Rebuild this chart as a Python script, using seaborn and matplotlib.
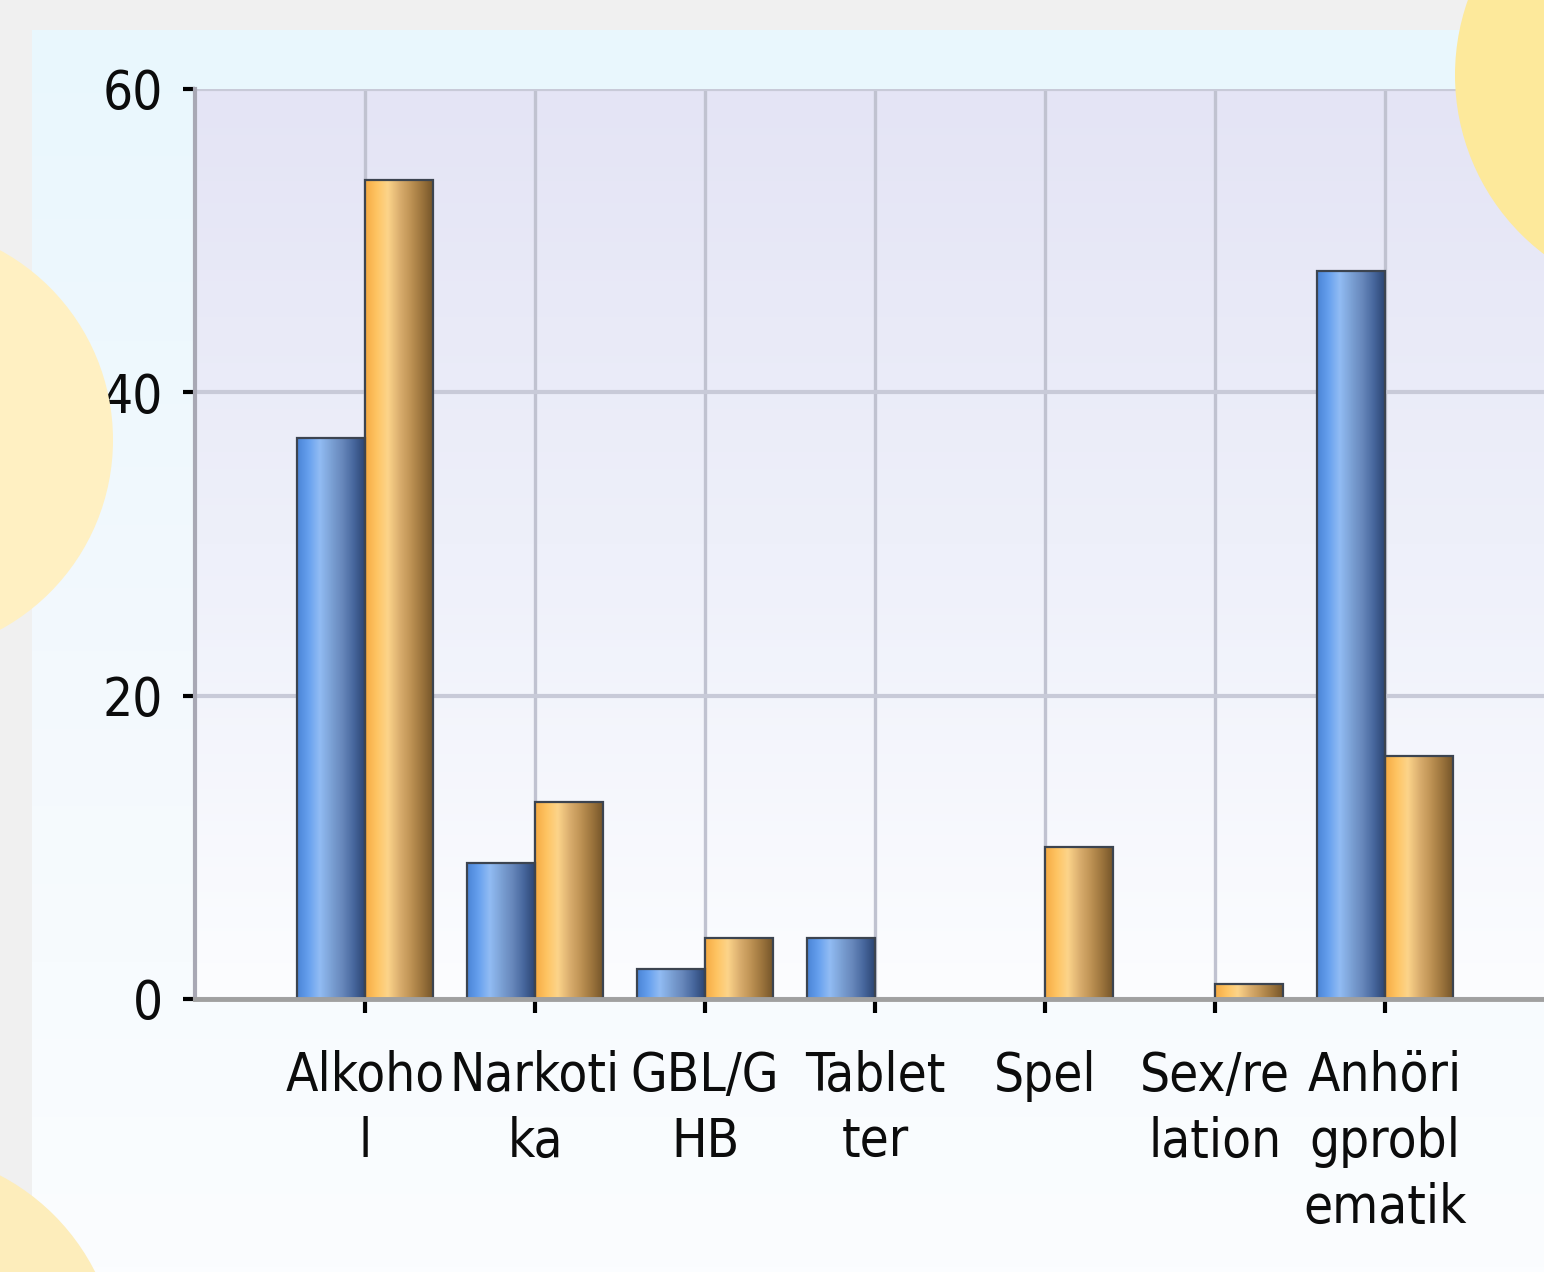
import numpy as np
import pandas as pd
import matplotlib
matplotlib.use("Agg")
import matplotlib.pyplot as plt
import seaborn as sns
from matplotlib.colors import LinearSegmentedColormap
from matplotlib.patches import Circle

# ---- data ----
categories = ["Alkoho\nl", "Narkoti\nka", "GBL/G\nHB", "Tablet\nter", "Spel", "Sex/re\nlation", "Anhöri\ngprobl\nematik"]
series_names = ["Serie 1", "Serie 2"]
serie1 = [37, 9, 2, 4, 0, 0, 48]
serie2 = [54, 13, 4, 0, 10, 1, 16]
yticks = [0, 20, 40, 60]

df = pd.DataFrame({
    "cat": categories * 2,
    "val": serie1 + serie2,
    "series": [series_names[0]] * len(categories) + [series_names[1]] * len(categories),
})

sns.set_theme(style="white")
plt.rcParams["font.family"] = ["DejaVu Sans"]
plt.rcParams["font.stretch"] = "condensed"

W, H = 1544, 1272
fig = plt.figure(figsize=(W / 100, H / 100), dpi=100)
fig.patch.set_facecolor("#f0f0f0")

# background panel with gradient
bg = fig.add_axes([0, 0, 1, 1], zorder=0)
bg.axis("off")
panel_cmap = LinearSegmentedColormap.from_list("panel", ["#fbfdff", "#f3f9fd", "#e9f7fd"])
grad = np.linspace(0, 1, 256).reshape(-1, 1)
bg.imshow(grad, cmap=panel_cmap, origin="lower", extent=(32, W, 0, H - 30), aspect="auto")
bg.set_xlim(0, W)
bg.set_ylim(0, H)

# main axes
x_left, x_right = 195, 1555
y_top, y_bot = 89, 999
ax = fig.add_axes([x_left / W, (H - y_bot) / H, (x_right - x_left) / W, (y_bot - y_top) / H], zorder=1)
ax.set_facecolor("none")
plot_cmap = LinearSegmentedColormap.from_list("plotbg", ["#fcfdff", "#eef0fa", "#e4e4f5"])
ax.imshow(grad, cmap=plot_cmap, origin="lower", extent=(0, 1, 0, 1), transform=ax.transAxes,
          aspect="auto", zorder=0)

sns.barplot(data=df, x="cat", y="val", hue="series", palette=["#5a8ad0", "#f0b050"],
            width=0.8, ax=ax, legend=False, edgecolor="#3c4450", linewidth=1.6, zorder=3)

blue_cmap = LinearSegmentedColormap.from_list(
    "b", ["#4a84d6", "#66a0ee", "#92bcf4", "#7ca2d6", "#6888bc", "#48689e", "#2c4674"])
orange_cmap = LinearSegmentedColormap.from_list(
    "o", ["#f4aa44", "#ffc462", "#fcd48a", "#dcb070", "#c09456", "#9e763e", "#76562a"])
row = np.linspace(0, 1, 128).reshape(1, -1)

bars = [p for p in ax.patches if hasattr(p, "get_height")]
n = len(categories)
for i, p in enumerate(bars):
    h = p.get_height()
    if h <= 0:
        p.set_linewidth(0)
        p.set_visible(False)
        continue
    cmap = blue_cmap if i < n else orange_cmap
    x0 = p.get_x()
    w = p.get_width()
    ax.imshow(row, cmap=cmap, extent=(x0, x0 + w, 0, h), aspect="auto", zorder=2.5)
    p.set_facecolor("none")

ax.set_xlim(-1, 7)
ax.set_ylim(0, 60)
ax.set_yticks(yticks)
ax.set_yticklabels([str(t) for t in yticks])
ax.set_xlabel("")
ax.set_ylabel("")

ax.set_axisbelow(True)
ax.grid(True, axis="y", color="#c8cad8", linewidth=3, zorder=1)
ax.grid(True, axis="x", color="#c0c2d0", linewidth=2.4, zorder=1)

for s in ["top", "right"]:
    ax.spines[s].set_visible(False)
ax.spines["left"].set_color("#a8a8b4")
ax.spines["left"].set_linewidth(3)
ax.spines["bottom"].set_color("#a0a0a0")
ax.spines["bottom"].set_linewidth(3.5)
ax.spines["bottom"].set_zorder(4)

ax.tick_params(axis="y", length=9, width=3, color="black", pad=14, labelsize=38, labelcolor="#0c0c0c", left=True)
ax.tick_params(axis="x", length=10, width=3, color="black", pad=27, labelsize=38, labelcolor="#0c0c0c", bottom=True)
for lab in ax.get_yticklabels() + ax.get_xticklabels():
    lab.set_fontstretch("condensed")
for lab in ax.get_xticklabels():
    lab.set_linespacing(1.33)
    lab.set_multialignment("center")

# decorative circles
deco = fig.add_axes([0, 0, 1, 1], zorder=5)
deco.set_xlim(0, W)
deco.set_ylim(H, 0)
deco.axis("off")
deco.add_patch(Circle((1680, 75), 225, color="#fde99b", lw=0))
deco.add_patch(Circle((-103, 440), 216, color="#fff0c2", lw=0))
deco.add_patch(Circle((-103, 1372), 222, color="#fdedbb", lw=0))

fig.savefig("out.png", dpi=100, facecolor=fig.get_facecolor())
